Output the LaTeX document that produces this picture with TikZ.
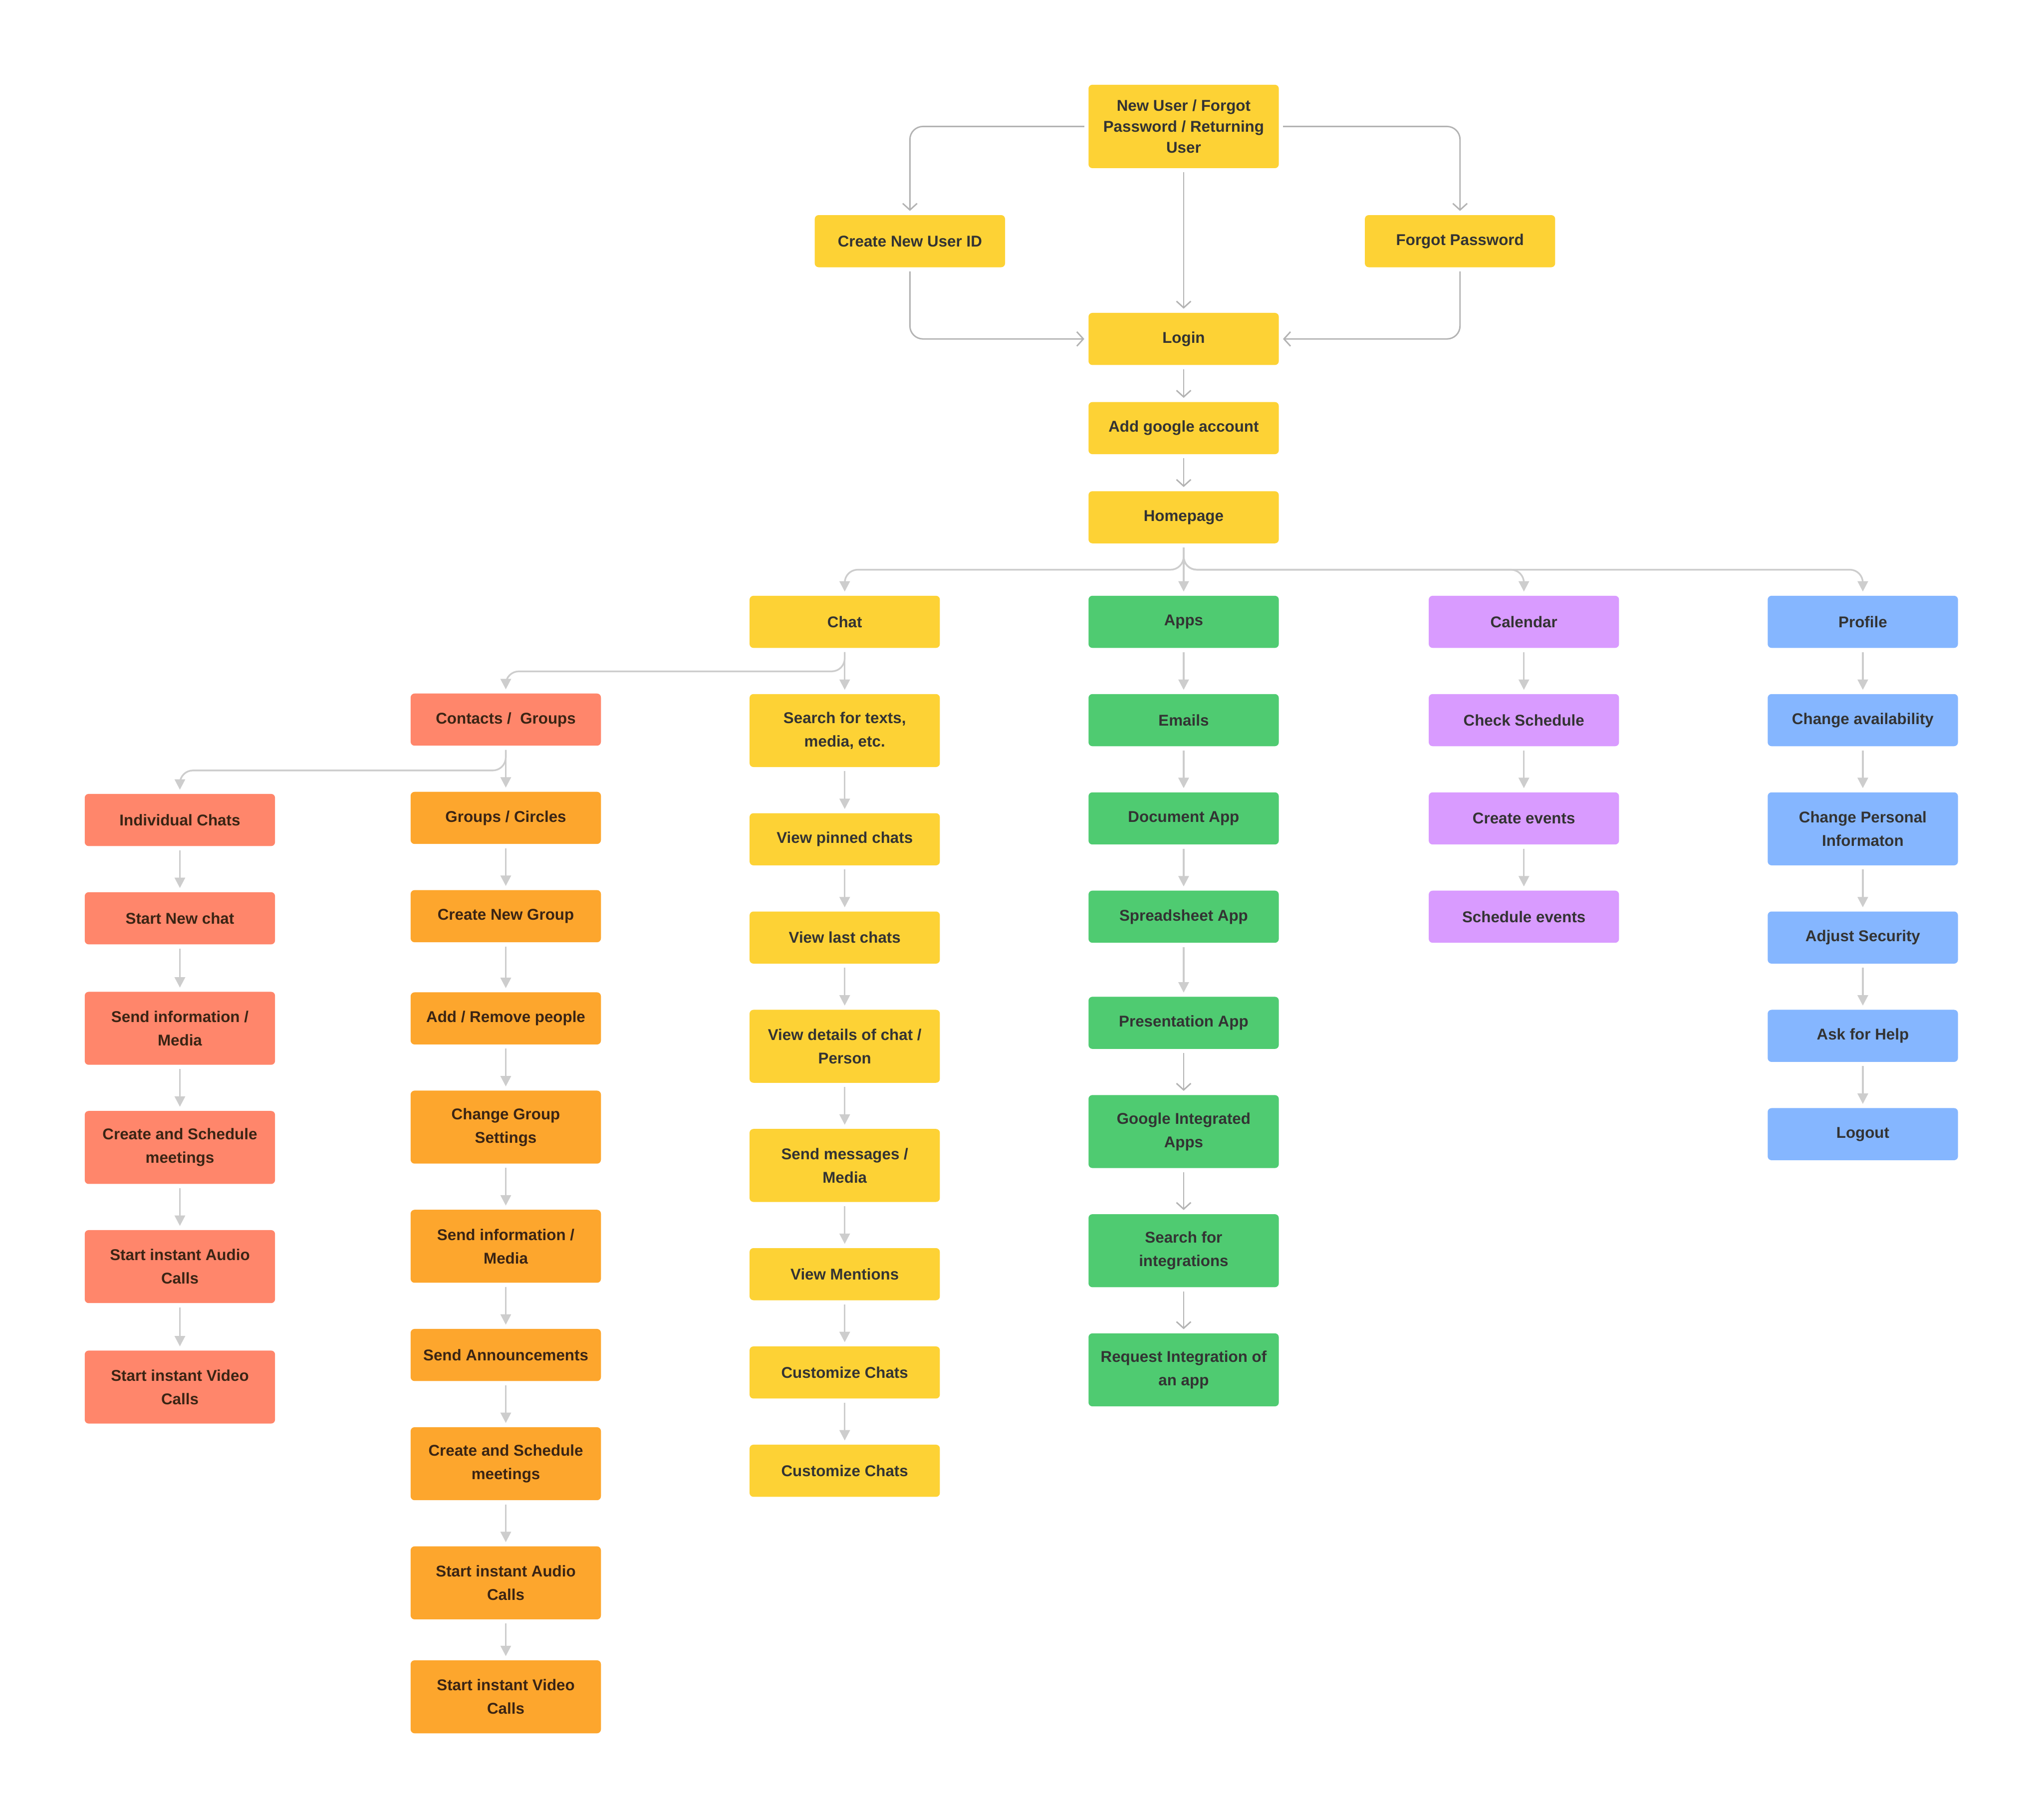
\documentclass[tikz,border=0pt]{standalone}
\usepackage{fontspec}
\setmainfont{Liberation Sans}
\usetikzlibrary{positioning,arrows.meta}

\definecolor{fyel}{HTML}{FDD235}
\definecolor{fgrn}{HTML}{4FCB71}
\definecolor{fpur}{HTML}{D99BFF}
\definecolor{fblu}{HTML}{85B6FF}
\definecolor{fred}{HTML}{FF866B}
\definecolor{forg}{HTML}{FDA62D}
\definecolor{ink}{HTML}{333333}
\definecolor{inkbrn}{HTML}{3A2414}
\definecolor{linkgray}{HTML}{B3B3B3}
\definecolor{flowgray}{HTML}{CDCDCD}

\tikzset{
  box/.style={rounded corners=3pt,minimum width=146pt,minimum height=40pt,
              inner sep=2pt,align=center,text=ink,
              font=\fontsize{12}{18}\selectfont\bfseries},
  tall/.style={minimum height=56pt},
  yel/.style={box,fill=fyel},
  grn/.style={box,fill=fgrn},
  pur/.style={box,fill=fpur},
  blu/.style={box,fill=fblu},
  red/.style={box,fill=fred,text=inkbrn},
  org/.style={box,fill=forg,text=inkbrn},
  flow/.style={draw=flowgray,line width=1.3pt,-{Triangle[length=8pt,width=8pt]},
               shorten <=3pt,shorten >=3pt},
  link/.style={draw=linkgray,line width=1.1pt,-{Straight Barb[length=5pt,width=11pt]},
               shorten <=3pt,shorten >=3pt},
}

\begin{document}
\begin{tikzpicture}[x=1pt,y=-1pt,node distance=35pt]
  \useasboundingbox (0,0) rectangle (1568,1393);

  % sign in
  \node[yel,minimum height=64pt,font=\fontsize{12}{16}\selectfont\bfseries] (nu) at (908,97)
       {New User / Forgot\\Password / Returning\\User};
  \node[yel] (cid) at (698,185) {Create New User ID};
  \node[yel] (fp) at (1120,185) {Forgot Password};
  \node[yel] (login) at (908,260) {Login};
  \node[yel,below=28pt of login] (gacc) {Add google account};
  \node[yel,below=28pt of gacc] (home) {Homepage};

  % sections
  \node[yel] (chat) at (648,477) {Chat};
  \node[grn] (apps) at (908,477) {Apps};
  \node[pur] (cal) at (1169,477) {Calendar};
  \node[blu] (prof) at (1429,477) {Profile};

  % chat
  \node[yel,tall,below=of chat] (srch) {Search for texts,\\media, etc.};
  \node[yel,below=of srch] (pin) {View pinned chats};
  \node[yel,below=of pin] (last) {View last chats};
  \node[yel,tall,below=of last] (det) {View details of chat /\\Person};
  \node[yel,tall,below=of det] (msg) {Send messages /\\Media};
  \node[yel,below=of msg] (ment) {View Mentions};
  \node[yel,below=of ment] (cust1) {Customize Chats};
  \node[yel,below=of cust1] (cust2) {Customize Chats};

  % contacts
  \node[red] (cont) at (388,552) {Contacts / \ Groups};
  \node[red] (indiv) at (138,629) {Individual Chats};
  \node[red,below=of indiv] (newc) {Start New chat};
  \node[red,tall,below=36pt of newc] (isend) {Send information /\\Media};
  \node[red,tall,below=of isend] (imeet) {Create and Schedule\\meetings};
  \node[red,tall,below=of imeet] (iaud) {Start instant Audio\\Calls};
  \node[red,tall,below=36pt of iaud] (ivid) {Start instant Video\\Calls};

  % groups
  \node[org,below=of cont] (grp) {Groups / Circles};
  \node[org,below=of grp] (newg) {Create New Group};
  \node[org,below=38pt of newg] (addp) {Add / Remove people};
  \node[org,tall,below=of addp] (gset) {Change Group\\Settings};
  \node[org,tall,below=of gset] (gsend) {Send information /\\Media};
  \node[org,below=of gsend] (ann) {Send Announcements};
  \node[org,tall,below=of ann] (gmeet) {Create and Schedule\\meetings};
  \node[org,tall,below=of gmeet] (gaud) {Start instant Audio\\Calls};
  \node[org,tall,below=31pt of gaud] (gvid) {Start instant Video\\Calls};

  % apps
  \node[grn,below=of apps] (mail) {Emails};
  \node[grn,below=of mail] (doc) {Document App};
  \node[grn,below=of doc] (sheet) {Spreadsheet App};
  \node[grn,below=41pt of sheet] (pres) {Presentation App};
  \node[grn,tall,below=of pres] (gint) {Google Integrated\\Apps};
  \node[grn,tall,below=of gint] (isrch) {Search for\\integrations};
  \node[grn,tall,below=of isrch] (ireq) {Request Integration of\\an app};

  % calendar
  \node[pur,below=of cal] (chk) {Check Schedule};
  \node[pur,below=of chk] (cev) {Create events};
  \node[pur,below=of cev] (sev) {Schedule events};

  % profile
  \node[blu,below=of prof] (avail) {Change availability};
  \node[blu,tall,below=of avail] (pers) {Change Personal\\Informaton};
  \node[blu,below=of pers] (sec) {Adjust Security};
  \node[blu,below=of sec] (help) {Ask for Help};
  \node[blu,below=of help] (out) {Logout};

  % sign in links
  \draw[link,rounded corners=10pt] (nu.west) -| (cid.north);
  \draw[link,rounded corners=10pt] (nu.east) -| (fp.north);
  \draw[link] (nu) -- (login);
  \draw[link,rounded corners=10pt] (cid.south) |- (login.west);
  \draw[link,rounded corners=10pt] (fp.south) |- (login.east);
  \draw[link] (login) -- (gacc);
  \draw[link] (gacc) -- (home);

  % fans
  \coordinate (hbus) at (908,437);
  \coordinate (cbus) at (648,515);
  \coordinate (kbus) at (388,591);
  \draw[flow,rounded corners=10pt] (home.south) |- (chat.north |- hbus) -- (chat.north);
  \draw[flow] (home) -- (apps);
  \draw[flow,rounded corners=10pt] (home.south) |- (cal.north |- hbus) -- (cal.north);
  \draw[flow,rounded corners=10pt] (home.south) |- (prof.north |- hbus) -- (prof.north);
  \draw[flow,rounded corners=10pt] (chat.south) |- (cont.north |- cbus) -- (cont.north);
  \draw[flow] (chat) -- (srch);
  \draw[flow,rounded corners=10pt] (cont.south) |- (indiv.north |- kbus) -- (indiv.north);
  \draw[flow] (cont) -- (grp);

  % chat chain
  \draw[flow] (srch) -- (pin);
  \draw[flow] (pin) -- (last);
  \draw[flow] (last) -- (det);
  \draw[flow] (det) -- (msg);
  \draw[flow] (msg) -- (ment);
  \draw[flow] (ment) -- (cust1);
  \draw[flow] (cust1) -- (cust2);

  % individual chain
  \draw[flow] (indiv) -- (newc);
  \draw[flow] (newc) -- (isend);
  \draw[flow] (isend) -- (imeet);
  \draw[flow] (imeet) -- (iaud);
  \draw[flow] (iaud) -- (ivid);

  % group chain
  \draw[flow] (grp) -- (newg);
  \draw[flow] (newg) -- (addp);
  \draw[flow] (addp) -- (gset);
  \draw[flow] (gset) -- (gsend);
  \draw[flow] (gsend) -- (ann);
  \draw[flow] (ann) -- (gmeet);
  \draw[flow] (gmeet) -- (gaud);
  \draw[flow] (gaud) -- (gvid);

  % apps chain
  \draw[flow] (apps) -- (mail);
  \draw[flow] (mail) -- (doc);
  \draw[flow] (doc) -- (sheet);
  \draw[flow] (sheet) -- (pres);
  \draw[link] (pres) -- (gint);
  \draw[link] (gint) -- (isrch);
  \draw[link] (isrch) -- (ireq);

  % calendar chain
  \draw[flow] (cal) -- (chk);
  \draw[flow] (chk) -- (cev);
  \draw[flow] (cev) -- (sev);

  % profile chain
  \draw[flow] (prof) -- (avail);
  \draw[flow] (avail) -- (pers);
  \draw[flow] (pers) -- (sec);
  \draw[flow] (sec) -- (help);
  \draw[flow] (help) -- (out);
\end{tikzpicture}
\end{document}
